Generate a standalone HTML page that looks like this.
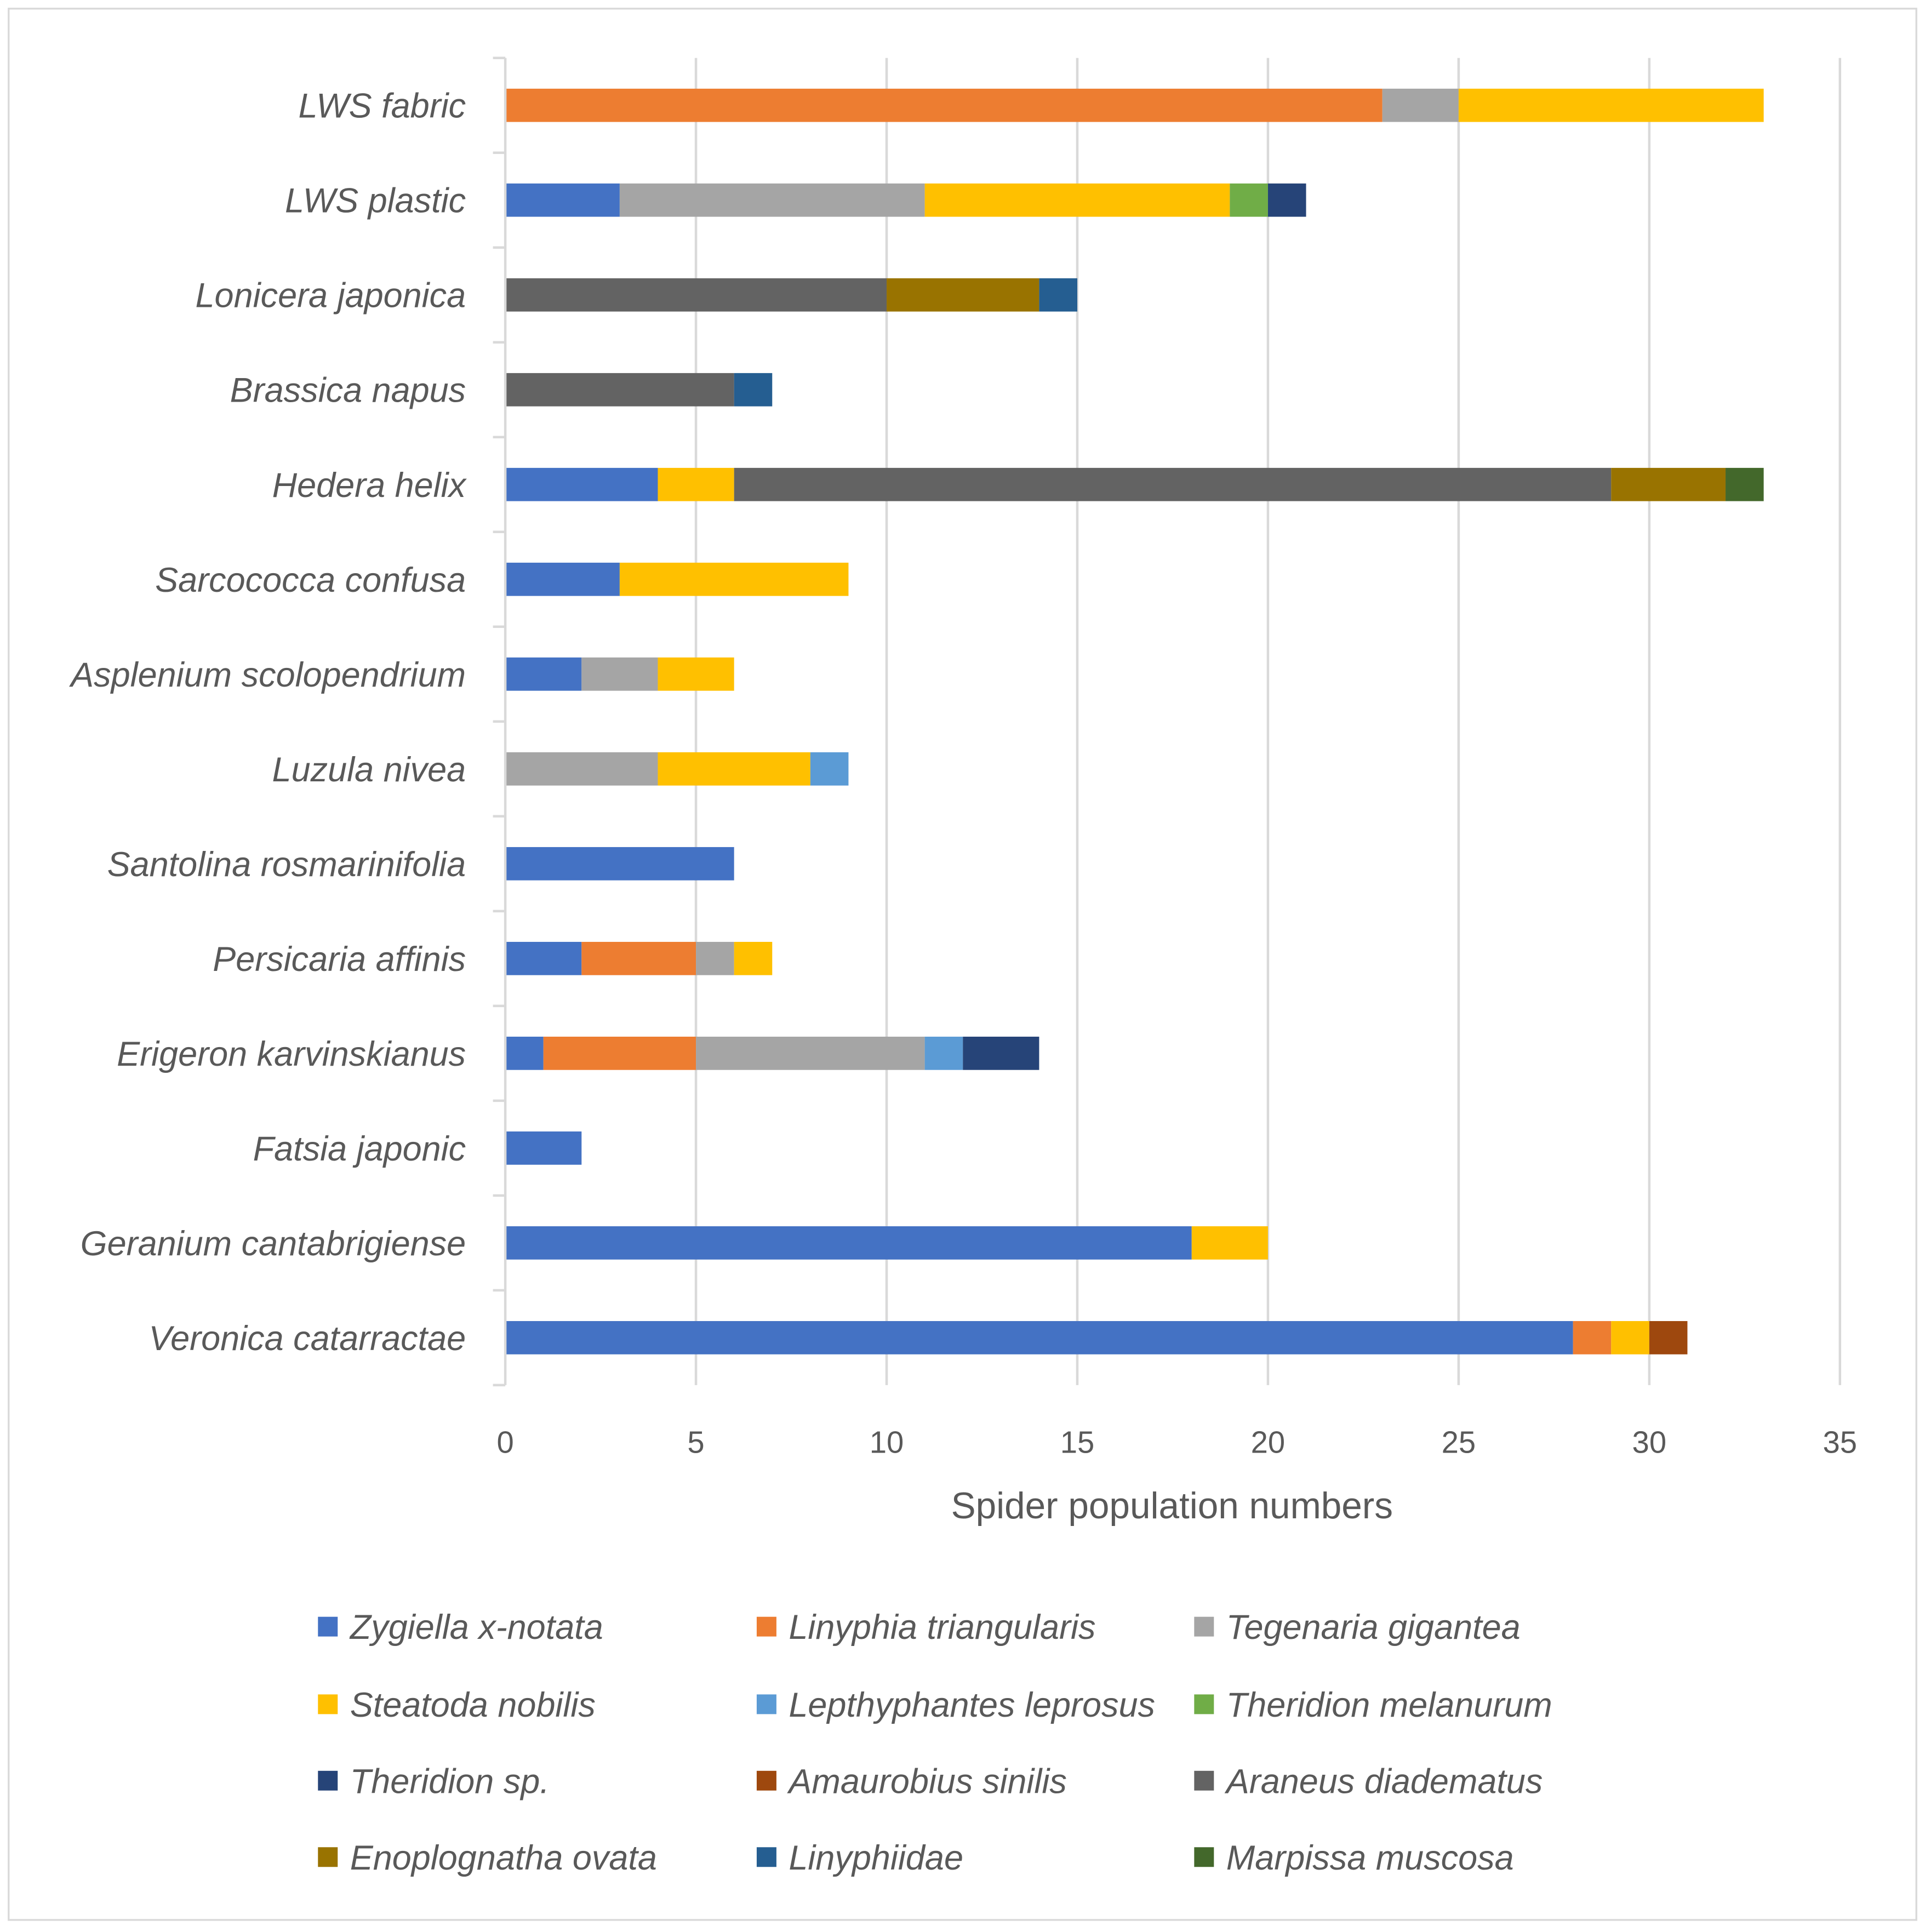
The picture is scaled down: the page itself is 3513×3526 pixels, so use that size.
<!DOCTYPE html>
<html><head><meta charset="utf-8">
<style>
html,body{margin:0;padding:0;background:#fff;}
svg{display:block;}
text{font-family:"Liberation Sans",sans-serif;fill:#595959;}
</style></head>
<body>
<svg id="chart" width="3513" height="3526" viewBox="0 0 1562 1567.8" xmlns="http://www.w3.org/2000/svg">
<rect x="7" y="7" width="1548" height="1551" fill="#fff" stroke="#d9d9d9" stroke-width="1.5"/>
<g id="grid"></g>
<g id="bars"></g>
<g id="axes"></g>
<g id="legend"></g>
<text x="951" y="1232" font-size="30" text-anchor="middle">Spider population numbers</text>
</svg>
<script>
const categories = ["LWS fabric","LWS plastic","Lonicera japonica","Brassica napus","Hedera helix","Sarcococca confusa","Asplenium scolopendrium","Luzula nivea","Santolina rosmarinifolia","Persicaria affinis","Erigeron karvinskianus","Fatsia japonic","Geranium cantabrigiense","Veronica catarractae"];
const seriesNames = ["Zygiella x-notata","Linyphia triangularis","Tegenaria gigantea","Steatoda nobilis","Lepthyphantes leprosus","Theridion melanurum","Theridion sp.","Amaurobius sinilis","Araneus diadematus","Enoplognatha ovata","Linyphiidae","Marpissa muscosa"];
const seriesColors = ["#4472C4","#ED7D31","#A5A5A5","#FFC000","#5B9BD5","#70AD47","#264478","#9E480E","#636363","#997300","#255E91","#43682B"];
const zygiella     = [0,3,0,0,4,3,2,0,6,2,1,2,18,28];
const linyphia     = [23,0,0,0,0,0,0,0,0,3,4,0,0,1];
const tegenaria    = [2,8,0,0,0,0,2,4,0,1,6,0,0,0];
const steatoda     = [8,8,0,0,2,6,2,4,0,1,0,0,2,1];
const lepthyphantes= [0,0,0,0,0,0,0,1,0,0,1,0,0,0];
const therMelanurum= [0,1,0,0,0,0,0,0,0,0,0,0,0,0];
const therSp       = [0,1,0,0,0,0,0,0,0,0,2,0,0,0];
const amaurobius   = [0,0,0,0,0,0,0,0,0,0,0,0,0,1];
const araneus      = [0,0,10,6,23,0,0,0,0,0,0,0,0,0];
const enoplognatha = [0,0,4,0,3,0,0,0,0,0,0,0,0,0];
const linyphiidae  = [0,0,1,1,0,0,0,0,0,0,0,0,0,0];
const marpissa     = [0,0,0,0,1,0,0,0,0,0,0,0,0,0];
const xTicks = [0,5,10,15,20,25,30,35];

const series=[zygiella,linyphia,tegenaria,steatoda,lepthyphantes,therMelanurum,therSp,amaurobius,araneus,enoplognatha,linyphiidae,marpissa];
const NS="http://www.w3.org/2000/svg";
const X0=410,X1=1493,XMAX=35,TOP=47,BOT=1124;
const x=v=>X0+(X1-X0)*v/XMAX;
const band=(BOT-TOP)/categories.length;
const yc=i=>TOP+band*(i+0.5);
const BH=27;
function mk(tag,attrs,parent){const e=document.createElementNS(NS,tag);for(const k in attrs)e.setAttribute(k,attrs[k]);parent.appendChild(e);return e;}
const grid=document.getElementById('grid'),bars=document.getElementById('bars'),axes=document.getElementById('axes'),legend=document.getElementById('legend');
xTicks.forEach(t=>{
  if(t>0){const l=mk('line',{x1:x(t),x2:x(t),y1:TOP,y2:BOT,stroke:'#d9d9d9','stroke-width':2},grid);
  
  }
  const tx=mk('text',{x:x(t),y:1179,'font-size':25,'text-anchor':'middle'},axes);
  tx.textContent=t;
  
  
});
const ax=mk('line',{x1:X0,x2:X0,y1:TOP,y2:BOT,stroke:'#d9d9d9','stroke-width':2},axes);


for(let i=0;i<=categories.length;i++){
  const yy=TOP+band*i;
  const tk=mk('line',{x1:X0-10,x2:X0,y1:yy,y2:yy,stroke:'#d9d9d9','stroke-width':2},axes);
  
  
}
categories.forEach((c,i)=>{
  const t=mk('text',{x:378,y:yc(i)+10,'font-size':28,'font-style':'italic','text-anchor':'end'},axes);
  t.textContent=c;
  
  
  let acc=0;
  series.forEach((s,k)=>{
    const v=s[i];
    if(v>0){
      const r=mk('rect',{x:x(acc),y:yc(i)-BH/2,width:x(acc+v)-x(acc),height:BH,fill:seriesColors[k]},bars);
      
      
      acc+=v;
    }
  });
});
const colX=[258,614,969],rowY=[1320,1383,1445,1507];
seriesNames.forEach((n,k)=>{
  const cx=colX[k%3],cy=rowY[Math.floor(k/3)];
  const sw=mk('rect',{x:cx,y:cy-8,width:16,height:16,fill:seriesColors[k]},legend);
  
  
  const t=mk('text',{x:cx+26,y:cy+10,'font-size':28,'font-style':'italic'},legend);
  t.textContent=n;
  
  
});
</script>
</body></html>
